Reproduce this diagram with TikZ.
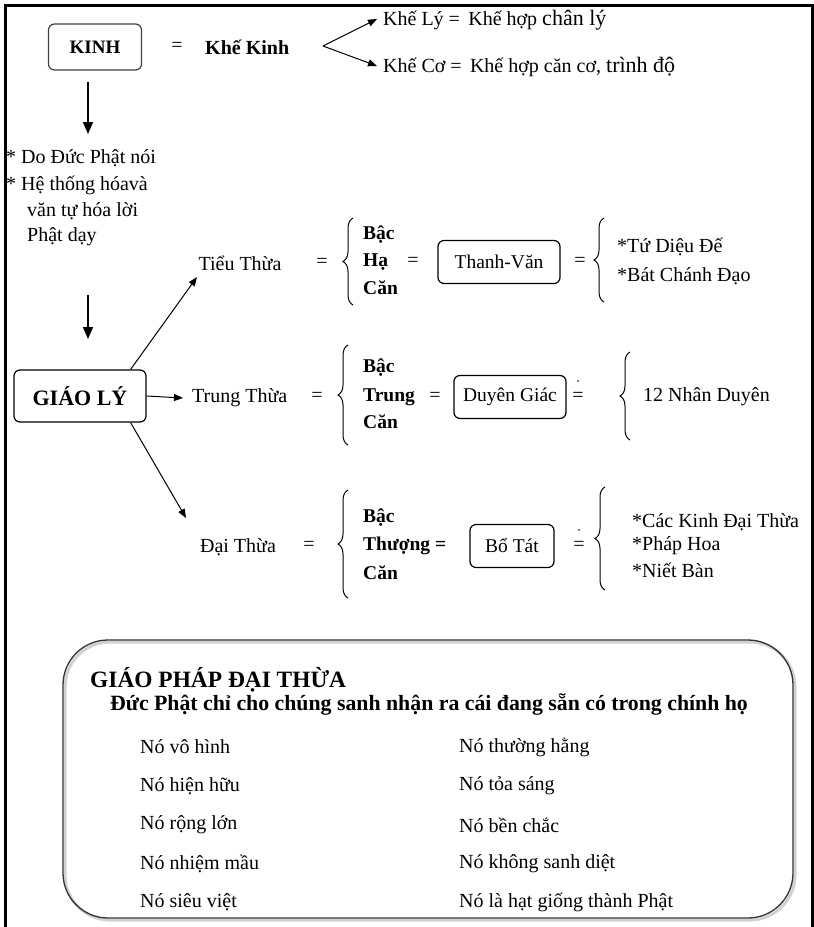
\documentclass[tikz,border=0pt]{standalone}
\usepackage{fontspec}
\setmainfont{Liberation Serif}
\usetikzlibrary{decorations.pathreplacing,arrows.meta}

\begin{document}
\begin{tikzpicture}[x=1pt,y=-1pt,
  txt/.style={inner sep=0pt, font=\fontsize{20}{24}\selectfont},
  btxt/.style={inner sep=0pt, font=\fontsize{19.5}{24}\selectfont\bfseries},
  rbox/.style={draw, rounded corners=6pt, line width=1.2pt, inner sep=0pt, minimum height=43pt},
  arr/.style={-{Triangle[length=9pt,width=7pt]}, line width=1pt},
  darr/.style={-{Triangle[length=12pt,width=10pt]}, line width=1.6pt},
  brc/.style={decorate, decoration={brace, amplitude=10pt, raise=0pt}, line width=1pt},
  item/.style={inner sep=0pt, anchor=west, font=\fontsize{20}{24}\selectfont},
]
\useasboundingbox (0,0) rectangle (814,927);
% outer frame
\draw[line width=3pt] (5,940) -- (5,5) -- (812,5) -- (812,940);

% ---- KINH header ----
\node[rbox, draw=black!75, minimum width=93pt, minimum height=46pt,
      font=\fontsize{19}{22}\selectfont\bfseries] (kinh) at (95,47) {KINH};
\node[txt] (eq0) at (177,47) {=};
\node[inner sep=0pt, font=\fontsize{20}{24}\selectfont\bfseries, anchor=west] (khekinh) at (205,47) {Khế Kinh};
\coordinate (fork) at (323,46);
\node[txt, anchor=west] (khely) at (383,20) {Khế Lý = \,Khế hợp {\fontsize{22}{24}\selectfont chân lý}};
\node[txt, anchor=west] (kheco) at (383,67) {Khế Cơ = \,Khế hợp căn cơ, {\fontsize{22}{24}\selectfont trình độ}};
\draw[arr] (fork) -- ([xshift=-6pt,yshift=1pt]khely.west);
\draw[arr] (fork) -- ([xshift=-6pt,yshift=1pt]kheco.west);

% ---- down arrows ----
\coordinate (d1a) at (88,82);
\coordinate (d1b) at (88,134);
\draw[darr] (d1a) -- (d1b);

\node[txt, anchor=west] (n1) at (6,158) {* Do Đức Phật nói};
\node[txt, anchor=west] (n2) at (6,185) {* Hệ thống hóavà};
\node[txt, anchor=west] (n3) at (27,211) {văn tự hóa lời};
\node[txt, anchor=west] (n4) at (27,237) {Phật dạy};

\coordinate (d2a) at (88,295);
\coordinate (d2b) at (88,339);
\draw[darr] (d2a) -- (d2b);

% ---- GIÁO LÝ ----
\node[rbox, minimum width=132pt, minimum height=52pt,
      font=\fontsize{22}{26}\selectfont\bfseries] (gl) at (80,396) {GIÁO LÝ};

% ---- Tiểu Thừa row ----
\node[txt] (tieu) at (240,263) {Tiểu Thừa};
\node[txt] (eqt1) at (322,263) {=};
\draw[brc] (353,305) -- (353,218);
\node[btxt, anchor=west] (bac1) at (363,235) {Bậc};
\node[btxt, anchor=west] (ha) at (363,262) {Hạ};
\node[btxt, anchor=west] (can1) at (363,288) {Căn};
\node[txt] (eqt2) at (413,262) {=};
\node[rbox, minimum width=122pt] (tv) at (499,262) {\fontsize{19.5}{22}\selectfont Thanh-Văn};
\node[txt] (eqt3) at (580,262) {=};
\draw[brc] (604,302) -- (604,218);
\node[item] (t1) at (617,247) {*Tứ Diệu Đế};
\node[item] (t2) at (617,276) {*Bát Chánh Đạo};

% ---- Trung Thừa row ----
\node[txt, anchor=west] (trung) at (192,398) {Trung Thừa};
\node[txt] (eqm1) at (317,397) {=};
\draw[brc] (348,445) -- (348,345);
\node[btxt, anchor=west] (bac2) at (363,368) {Bậc};
\node[btxt, anchor=west] (tr) at (363,397) {Trung};
\node[btxt, anchor=west] (can2) at (363,422) {Căn};
\node[txt] (eqm2) at (435,397) {=};
\node[rbox, minimum width=112pt] (dg) at (510,397) {\fontsize{19.5}{22}\selectfont Duyên Giác};
\node[txt] (eqm3) at (578,397) {=};
\fill (578,381) circle (0.8pt);
\draw[brc] (630,440) -- (630,352);
\node[item] (m1) at (643,397) {12 Nhân Duyên};

% ---- Đại Thừa row ----
\node[txt] (dai) at (238,547) {Đại Thừa};
\node[txt] (eqd1) at (309,546) {=};
\draw[brc] (348,598) -- (348,490);
\node[btxt, anchor=west] (bac3) at (363,518) {Bậc};
\node[btxt, anchor=west] (th) at (363,546) {Thượng =};
\node[btxt, anchor=west] (can3) at (363,573) {Căn};
\node[rbox, minimum width=84pt] (bt) at (512,546) {\fontsize{19.5}{22}\selectfont Bổ Tát};
\node[txt] (eqd3) at (579,546) {=};
\fill (579,530) circle (0.8pt);
\draw[brc] (605,590) -- (605,487);
\node[item] (x1) at (632,522) {*Các Kinh Đại Thừa};
\node[item] (x2) at (632,546) {*Pháp Hoa};
\node[item] (x3) at (632,570) {*Niết Bàn};

% ---- branches from GIÁO LÝ ----
\coordinate (tipT) at (197,277);
\coordinate (tipD) at (186,518);
\draw[arr] ([xshift=-16pt]gl.north east) -- (tipT);
\draw[arr] (gl.east) -- ([xshift=-9pt]trung.west);
\draw[arr] ([xshift=-16pt]gl.south east) -- (tipD);

% ---- GIÁO PHÁP ĐẠI THỪA panel ----
\draw[line width=3pt, black!18, rounded corners=45pt] (65,642) rectangle (795,920);
\draw[line width=1.3pt, black!80, rounded corners=45pt] (63,640) rectangle (793,918);
\node[inner sep=0pt, anchor=west, font=\fontsize{23.4}{26}\selectfont\bfseries] (gp) at (90,680) {GIÁO PHÁP ĐẠI THỪA};
\node[inner sep=0pt, anchor=west, font=\fontsize{21.8}{24}\selectfont\bfseries] (gpsub) at (110,705) {Đức Phật chỉ cho chúng sanh nhận ra cái đang sẵn có trong chính họ};
\node[item] (a1) at (140,747) {Nó vô hình};
\node[item] (a2) at (140,786) {Nó hiện hữu};
\node[item] (a3) at (140,825) {Nó rộng lớn};
\node[item] (a4) at (140,864) {Nó nhiệm mầu};
\node[item] (a5) at (140,902) {Nó siêu việt};
\node[item] (b1) at (459,747) {Nó thường hằng};
\node[item] (b2) at (459,786) {Nó tỏa sáng};
\node[item] (b3) at (459,825) {Nó bền chắc};
\node[item] (b4) at (459,864) {Nó không sanh diệt};
\node[item] (b5) at (459,902) {Nó là hạt giống thành Phật};
\end{tikzpicture}
\end{document}
